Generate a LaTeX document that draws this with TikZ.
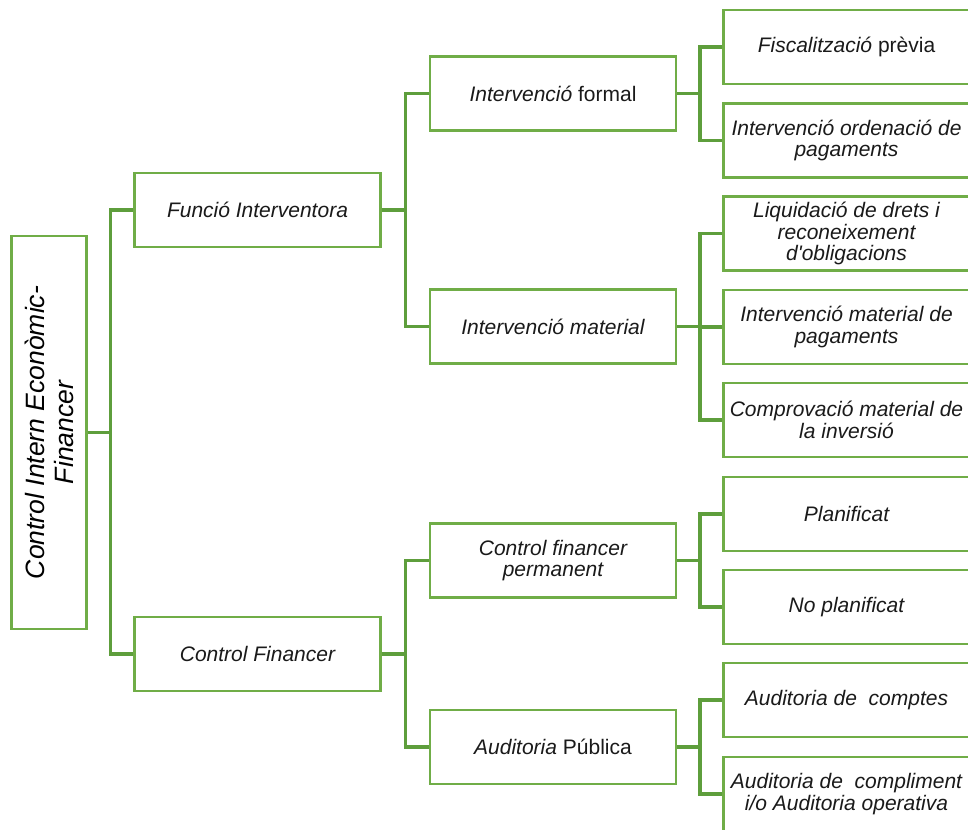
\documentclass[tikz,border=0pt]{standalone}
\usepackage{fontspec}
\setmainfont{Liberation Sans}[Ligatures=TeXOff]
\definecolor{boxgreen}{HTML}{70AD47}
\definecolor{linkgreen}{HTML}{5E9E3C}
\definecolor{txt}{HTML}{1A1A1A}
\begin{document}
\begin{tikzpicture}[x=1pt,y=-1pt,
  box/.style={draw=boxgreen,line width=2.2pt,fill=white,minimum width=246pt,minimum height=74pt,
    inner sep=0pt,align=center,text=txt,font=\fontsize{21}{21.5}\selectfont\itshape},
  rootbox/.style={box,minimum width=393pt,minimum height=75pt,rotate=90,
    font=\fontsize{26.5}{29}\selectfont\itshape,text=black},
  link/.style={draw=linkgreen,line width=3.3pt,line join=miter},
]
\useasboundingbox[clip] (0,0) rectangle (968,829);
\fill[white] (0,0) rectangle (968,829);

% root
\node[rootbox] (root) at (49,432.5) {Control Intern Econòmic-\\Financer};

% level 1
\node[box] (fi) at (257.5,210) {Funció Interventora};
\node[box] (cf) at (257.5,654) {Control Financer};

% level 2
\node[box] (ifo) at (553,93.5) {Intervenció {\upshape formal}};
\node[box] (ima) at (553,326.5) {Intervenció material};
\node[box] (cfp) at (553,560.5) {Control financer\\permanent};
\node[box] (ap)  at (553,747) {Auditoria {\upshape Pública}};

% level 3
\node[box] (fp)  at (846.5,47)    {Fiscalització {\upshape prèvia}};
\node[box] (iop) at (846.5,140.5) {Intervenció ordenació de\\pagaments};
\node[box] (ldr) at (846.5,233.5) {Liquidació de drets i\\reconeixement\\d'obligacions};
\node[box] (imp) at (846.5,327)   {Intervenció material de\\pagaments};
\node[box] (cmi) at (846.5,420)   {Comprovació material de\\la inversió};
\node[box] (pla) at (846.5,514)   {Planificat};
\node[box] (npl) at (846.5,607)   {No planificat};
\node[box] (adc) at (846.5,700)   {Auditoria de\ \ comptes};
\node[box] (acm) at (846.5,794)   {Auditoria de\ \ compliment\\i/o Auditoria operativa};

% connectors
\foreach \c in {fi,cf} \draw[link] (root.south) -- ++(23,0) |- (\c.west);
\foreach \c in {ifo,ima} \draw[link] (fi.east) -- ++(24,0) |- (\c.west);
\foreach \c in {cfp,ap} \draw[link] (cf.east) -- ++(24,0) |- (\c.west);
\foreach \c in {fp,iop} \draw[link] (ifo.east) -- ++(23,0) |- (\c.west);
\foreach \c in {ldr,imp,cmi} \draw[link] (ima.east) -- ++(23,0) |- (\c.west);
\foreach \c in {pla,npl} \draw[link] (cfp.east) -- ++(23,0) |- (\c.west);
\foreach \c in {adc,acm} \draw[link] (ap.east) -- ++(23,0) |- (\c.west);
\end{tikzpicture}
\end{document}
